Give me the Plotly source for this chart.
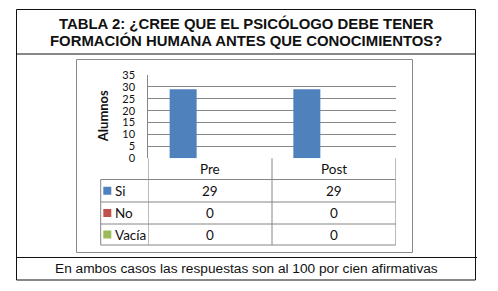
import plotly.graph_objects as go

# ---------------- data ----------------
categories = ["Pre", "Post"]
series_names = ["Si", "No", "Vacía"]
si_values = [29, 29]
no_values = [0, 0]
vacia_values = [0, 0]
y_ticks = [0, 5, 10, 15, 20, 25, 30, 35]
y_axis_title = "Alumnos"
title_lines = ["TABLA 2: ¿CREE QUE EL PSICÓLOGO DEBE TENER",
               "FORMACIÓN HUMANA ANTES QUE CONOCIMIENTOS?"]
footer_text = "En ambos casos las respuestas son al 100 por cien afirmativas"

# ---------------- style ----------------
PAGE_OFF = 8          # default body margin of the html page
W, H = 498 - PAGE_OFF, 291 - PAGE_OFF
colors = ["#4F81BD", "#C0504D", "#9BBB59"]
grid_col = "#868686"
calibri = "Lato, 'Open Sans', sans-serif"
arial = "'Liberation Sans', Arial, sans-serif"


def X(px):
    return (px - PAGE_OFF) / W


def Y(py):
    return 1 - (py - PAGE_OFF) / H


series_values = [si_values, no_values, vacia_values]

fig = go.Figure()
for name, vals, col in zip(series_names, series_values, colors):
    fig.add_trace(go.Bar(x=categories, y=vals, name=name, marker=dict(color=col, line=dict(width=0)),
                         showlegend=False))

shapes = []
ann = []


def line(x0, y0, x1, y1, color, width=1, xref="paper"):
    shapes.append(dict(type="line", xref=xref, yref="paper", x0=x0, x1=x1, y0=y0, y1=y1,
                       line=dict(color=color, width=width)))


def text(x, y, t, font, xref="paper", xanchor="center", angle=0):
    ann.append(dict(x=x, y=y, xref=xref, yref="paper", text=t, showarrow=False, xanchor=xanchor,
                    yanchor="middle", textangle=angle, font=font))


# outer frame
line(X(16.5), Y(9.5), X(475.5), Y(9.5), "#111")
line(X(16.5), Y(9.5), X(16.5), Y(280), "#111")
line(X(475.5), Y(9.5), X(475.5), Y(280), "#111")
line(X(16.5), Y(280), X(475.5), Y(280), "#111")
line(X(16.5), Y(54), X(475.5), Y(54), "#111")
line(X(16.5), Y(257.5), X(477), Y(257.5), "#111")

# chart area frame
shapes.append(dict(type="rect", xref="paper", yref="paper", x0=X(76.5), x1=X(412.5), y0=Y(252.5), y1=Y(59.5),
                   line=dict(color="#8a8a8a", width=1)))

# data table
rows = [158.3, 179.5, 202.0, 224.0, 245.0]
label_left = 100.7
n = len(categories)
cell_font = dict(family=calibri, size=13.5, color="#111")
for r in rows[1:]:
    line(X(label_left), Y(r), X(395.7), Y(r), grid_col)
line(X(label_left), Y(rows[1]), X(label_left), Y(rows[-1]), grid_col)
for k in range(n + 1):
    line(k - 0.5, Y(rows[0]), k - 0.5, Y(rows[-1]), grid_col, xref="x")

for j, cat in enumerate(categories):
    text(j, Y((rows[0] + rows[1]) / 2), cat, cell_font, xref="x")
for i, (name, vals, col) in enumerate(zip(series_names, series_values, colors)):
    yc = (rows[i + 1] + rows[i + 2]) / 2
    shapes.append(dict(type="rect", xref="paper", yref="paper", x0=X(103.3), x1=X(111.3), y0=Y(yc + 4),
                       y1=Y(yc - 4), fillcolor=col, line=dict(width=0)))
    text(X(112.5), Y(yc), name, cell_font, xanchor="left")
    for j, v in enumerate(vals):
        text(j, Y(yc), str(v), cell_font, xref="x")

# axis title
text(X(102.5), Y(116.7), "<b>" + y_axis_title + "</b>", dict(family=calibri, size=13, color="#111"), angle=-90)

# title & footer
for t, yy in zip(title_lines, [23, 41]):
    text(X(246), Y(yy), "<b>" + t + "</b>", dict(family=arial, size=14.9, color="#111"))
text(X(246), Y(268), footer_text, dict(family=arial, size=13.7, color="#111"))

fig.update_layout(
    width=W, height=H, margin=dict(l=0, r=0, t=0, b=0, autoexpand=False),
    paper_bgcolor="white", plot_bgcolor="white",
    barmode="group", bargap=0.345, bargroupgap=0,
    xaxis=dict(domain=[X(148.3), X(395.7)], range=[-0.5, n - 0.5], showticklabels=False, automargin=False,
               showgrid=False, zeroline=False, showline=False, fixedrange=True),
    yaxis=dict(domain=[Y(158.3), Y(75)], range=[0, 35], tickvals=y_ticks, showgrid=True, automargin=False,
               gridcolor=grid_col, gridwidth=1, zeroline=False, showline=True, linecolor=grid_col,
               ticks="", ticklabelstandoff=10, tickfont=dict(family=calibri, size=11, color="#111")),
    shapes=shapes, annotations=ann,
)

fig.write_html("out.html")
